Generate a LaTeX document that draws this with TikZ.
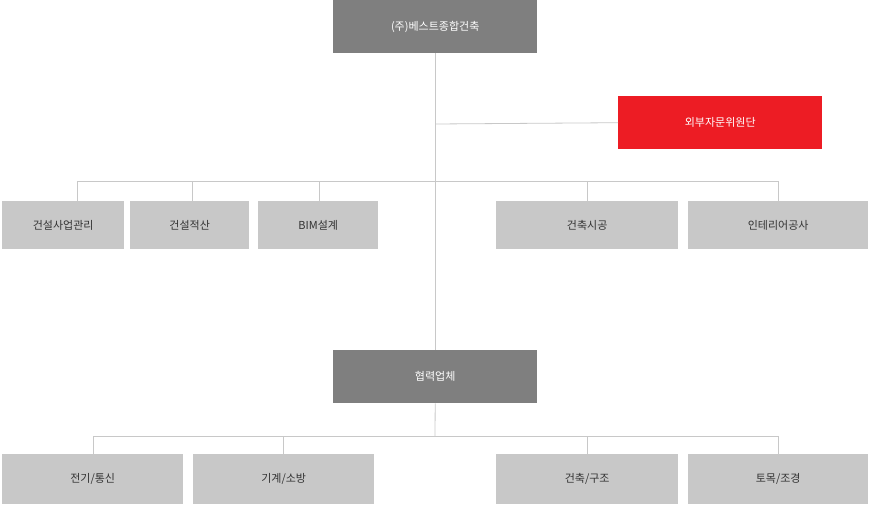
\documentclass[tikz,border=0pt]{standalone}
\usepackage{fontspec}
\setmainfont{Noto Sans CJK KR}
\definecolor{darkbox}{HTML}{7F7F7F}
\definecolor{lightbox}{HTML}{C8C8C8}
\definecolor{redbox}{HTML}{ED1C24}
\definecolor{linegray}{HTML}{C8C8C8}
\tikzset{
	box/.style={fill=lightbox, text=black!80, font=\fontsize{11}{13}\selectfont, inner sep=0pt, anchor=north west},
	mainbox/.style={box, fill=darkbox, text=white},
	advbox/.style={box, fill=redbox, text=white},
	link/.style={draw=linegray, line width=0.8pt}
}
\begin{document}
\begin{tikzpicture}[x=1pt, y=-1pt]
	\useasboundingbox (0,0) rectangle (872,504);
	%% head office and advisers
	\node[mainbox, minimum width=204pt, minimum height=53pt](head) at (333,0){(주)베스트종합건축};
	\node[advbox, minimum width=204pt, minimum height=53pt](advisers) at (618,96){외부자문위원단};
	
	%% departments
	\node[box, minimum width=122pt, minimum height=48pt](dept_pm) at (2,201){건설사업관리};
	\node[box, minimum width=119pt, minimum height=48pt](dept_cost) at (130,201){건설적산};
	\node[box, minimum width=120pt, minimum height=48pt](dept_bim) at (258,201){BIM설계};
	\node[box, minimum width=182pt, minimum height=48pt](dept_build) at (496,201){건축시공};
	\node[box, minimum width=180pt, minimum height=48pt](dept_interior) at (688,201){인테리어공사};
	
	%% partners
	\node[mainbox, minimum width=204pt, minimum height=53pt](partners) at (333,350){협력업체};
	\node[box, minimum width=181pt, minimum height=50pt](part_elec) at (2,454){전기/통신};
	\node[box, minimum width=181pt, minimum height=50pt](part_mech) at (193,454){기계/소방};
	\node[box, minimum width=182pt, minimum height=50pt](part_struct) at (496,454){건축/구조};
	\node[box, minimum width=180pt, minimum height=50pt](part_civil) at (688,454){토목/조경};
	
	% bus coordinates
	\coordinate (adv_join) at (435,124);
	\coordinate (bus_l) at (77,181);
	\coordinate (bus_r) at (778,181);
	\coordinate (bus2_l) at (93,436);
	\coordinate (bus2_r) at (778,436);
	\coordinate (bus2_mid) at (435,436);
	
	\draw[link] (head.south) -- (partners.north);
	\draw[link] (adv_join) -- (advisers.west);
	\draw[link] (bus_l) -- (bus_r);
	\foreach \x/\n in {77/dept_pm, 192/dept_cost, 319/dept_bim, 587/dept_build, 778/dept_interior}
		\draw[link] (\x,181) coordinate (drop) -- (drop |- \n.north);
	\draw[link] (partners.south) -- (bus2_mid);
	\draw[link] (bus2_l) -- (bus2_r);
	\foreach \x/\n in {93/part_elec, 283/part_mech, 587/part_struct, 778/part_civil}
		\draw[link] (\x,436) coordinate (drop) -- (drop |- \n.north);
\end{tikzpicture}
\end{document}
